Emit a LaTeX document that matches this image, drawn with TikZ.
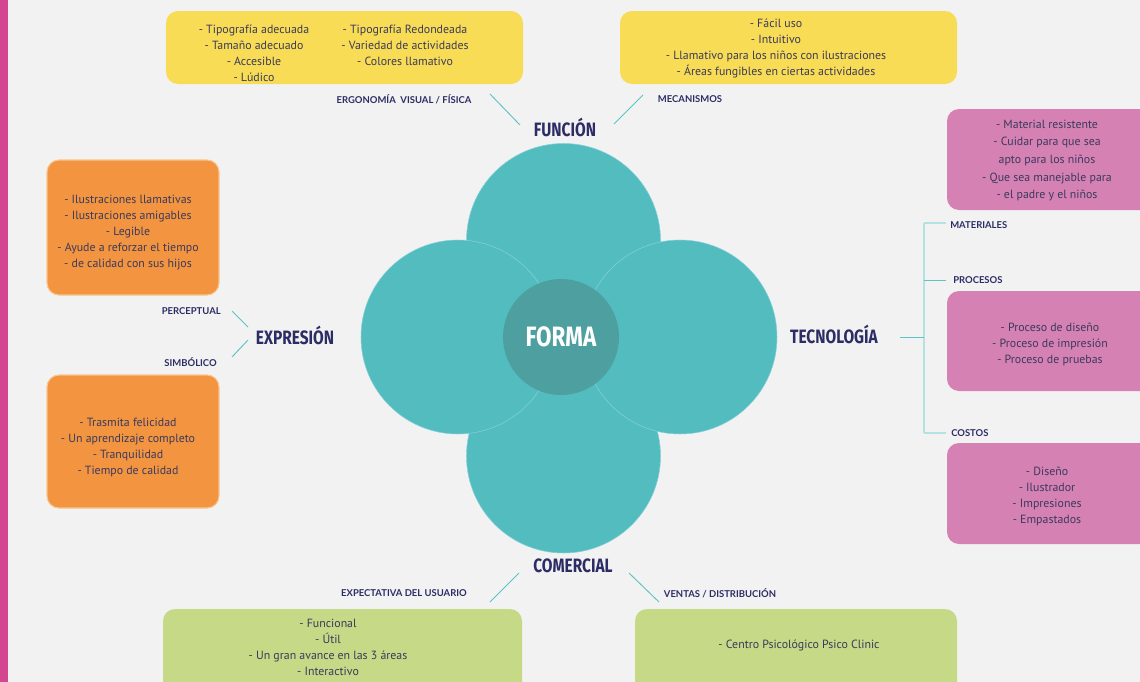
\documentclass[tikz,border=0pt]{standalone}
\usepackage{fontspec}
\setmainfont{PT Sans}
\newfontfamily\headfont[FakeStretch=0.8]{Fira Sans}
\newfontfamily\labfont{Lato}
\usepackage{tikz}
\definecolor{bgcol}{HTML}{F2F2F2}
\definecolor{barcol}{HTML}{D2478F}
\definecolor{yelcol}{HTML}{F8DC55}
\definecolor{pinkcol}{HTML}{D681B4}
\definecolor{orgcol}{HTML}{F39441}
\definecolor{orgedge}{HTML}{F8C68E}
\definecolor{grncol}{HTML}{C5D986}
\definecolor{tealcol}{HTML}{52BCBF}
\definecolor{tealdark}{HTML}{4E9FA0}
\definecolor{tealedge}{HTML}{86D0DA}
\definecolor{navy}{HTML}{2D2D66}
\definecolor{txtcol}{HTML}{3A3A5C}
\definecolor{linkcol}{HTML}{5CC3C7}
\definecolor{treecol}{HTML}{B4E1E2}
\tikzset{
  petal/.style={circle, fill=tealcol, draw=tealedge, line width=0.4pt, minimum size=145.5pt},
  core/.style={circle, fill=tealdark, minimum size=87pt, text=white, font=\headfont\bfseries\fontsize{21}{21}\selectfont},
  box/.style={rounded corners=9pt, inner sep=0pt},
  ybox/.style={box, fill=yelcol},
  pbox/.style={box, fill=pinkcol},
  obox/.style={box, fill=orgcol, draw=orgedge, line width=0.8pt},
  gbox/.style={box, fill=grncol},
  txt/.style={align=center, text=txtcol, font=\fontsize{8.9}{12}\selectfont, inner sep=0pt, yshift=-1.5pt},
  head/.style={text=navy, font=\headfont\bfseries\fontsize{14.5}{14.5}\selectfont, inner sep=0pt, yshift=1.2pt},
  tag/.style={text=navy, font=\labfont\bfseries\fontsize{7.1}{7.5}\selectfont, inner sep=0pt},
  link/.style={draw=linkcol, line width=0.7pt},
  tree/.style={draw=treecol, line width=0.9pt},
}

\begin{document}
\begin{tikzpicture}[x=0.75pt, y=-0.75pt]
\useasboundingbox (0,0) rectangle (1140,682);
\fill[bgcol] (0,0) rectangle (1140,682);
\clip (0,0) rectangle (1140,682);
\fill[barcol] (0,0) rectangle (8,682);

% flower
\node[petal] (pTop) at (563.5,240.5) {};
\node[petal] (pBot) at (563.5,456) {};
\node[petal] (pLeft) at (458,337) {};
\node[petal] (pRight) at (680,337) {};
\node[core] (forma) at (561,337) {FORMA};

% headings
\node[head] (funcion) at (565,129) {FUNCIÓN};
\node[head] (expresion) at (295,337) {EXPRESIÓN};
\node[head] (tecno) at (834,336) {TECNOLOGÍA};
\node[head] (comercial) at (573,567) {COMERCIAL};

% boxes
\node[ybox, minimum width=267.75pt, minimum height=54.75pt] (ergBox) at (344.5,47.5) {};
\node[ybox, minimum width=252.75pt, minimum height=54.75pt] (mecBox) at (788.5,47.5) {};
\node[pbox, minimum width=159.75pt, minimum height=75.75pt] (matBox) at (1053.5,159.5) {};
\node[pbox, minimum width=159.75pt, minimum height=75pt] (proBox) at (1053.5,341) {};
\node[pbox, minimum width=159.75pt, minimum height=75.75pt] (cosBox) at (1053.5,493.5) {};
\node[obox, minimum width=129pt, minimum height=101.25pt] (perBox) at (133,227.5) {};
\node[obox, minimum width=129pt, minimum height=99.75pt] (simBox) at (133,441.5) {};
\node[gbox, minimum width=269.25pt, minimum height=68.25pt] (expBox) at (342.5,654.5) {};
\node[gbox, minimum width=241.5pt, minimum height=68.25pt] (venBox) at (796,654.5) {};

% box texts
\node[txt] (ergA) at (254,51) {- Tipografía adecuada\\- Tamaño adecuado\\- Accesible\\- Lúdico};
\node[txt] (ergB) at (405,43) {- Tipografía Redondeada\\- Variedad de actividades\\- Colores llamativo};
\node[txt] (mecT) at (776,46.5) {- Fácil uso\\- Intuitivo\\- Llamativo para los niños con ilustraciones\\- Áreas fungibles en ciertas actividades};
\node[txt, font=\fontsize{8.9}{13.2}\selectfont] (matT) at (1047,158.5) {- Material resistente\\- Cuidar para que sea\\apto para los niños\\- Que sea manejable para\\- el padre y el niños};
\node[txt] (proT) at (1050,342) {- Proceso de diseño\\- Proceso de impresión\\- Proceso de pruebas};
\node[txt] (cosT) at (1047,494) {- Diseño\\- Ilustrador\\- Impresiones\\- Empastados};
\node[txt] (perT) at (128,231) {- Ilustraciones llamativas\\- Ilustraciones amigables\\- Legible\\- Ayude a reforzar el tiempo\\- de calidad con sus hijos};
\node[txt] (simT) at (128,445) {- Trasmita felicidad\\- Un aprendizaje completo\\- Tranquilidad\\- Tiempo de calidad};
\node[txt] (expT) at (328,645) {- Funcional\\- Útil\\- Un gran avance en las 3 áreas\\- Interactivo};
\node[txt] (venT) at (799,643) {- Centro Psicológico Psico Clinic};

% tags
\node[tag] (ergTag) at (404,99) {ERGONOMÍA\ \ VISUAL / FÍSICA};
\node[tag] (mecTag) at (690,99) {MECANISMOS};
\node[tag, anchor=east] (perTag) at (221,311) {PERCEPTUAL};
\node[tag, anchor=east] (simTag) at (217,362) {SIMBÓLICO};
\node[tag, anchor=west] (matTag) at (950,225) {MATERIALES};
\node[tag, anchor=west] (proTag) at (953,280) {PROCESOS};
\node[tag, anchor=west] (cosTag) at (951,433) {COSTOS};
\node[tag] (expTag) at (404,593) {EXPECTATIVA DEL USUARIO};
\node[tag] (venTag) at (720,593) {VENTAS / DISTRIBUCIÓN};

% connector ends
\coordinate (fL1) at (490,94);   \coordinate (fL2) at (520,125);
\coordinate (fR1) at (643,95);   \coordinate (fR2) at (614,124);
\coordinate (eU1) at (232,311);  \coordinate (eU2) at (248,327);
\coordinate (eD1) at (248,340);  \coordinate (eD2) at (232,357);
\coordinate (cL1) at (519,573);  \coordinate (cL2) at (490,602);
\coordinate (cR1) at (629,573);  \coordinate (cR2) at (659,602);
\coordinate (tA) at (900,337);   \coordinate (tB) at (924,337);
\coordinate (tTop) at (924,223); \coordinate (tMid) at (924,280);
\coordinate (tBot) at (924,433);

\draw[link] (fL1) -- (fL2);
\draw[link] (fR1) -- (fR2);
\draw[link] (eU1) -- (eU2);
\draw[link] (eD1) -- (eD2);
\draw[link] (cL1) -- (cL2);
\draw[link] (cR1) -- (cR2);
\draw[tree] (tTop) -- (tBot);
\draw[tree] (tTop) -- ++(22,0);
\draw[link] (tA) -- (tB);
\draw[link] (tMid) -- ++(22,0);
\draw[tree] (tBot) -- ++(22,0);
\end{tikzpicture}
\end{document}
